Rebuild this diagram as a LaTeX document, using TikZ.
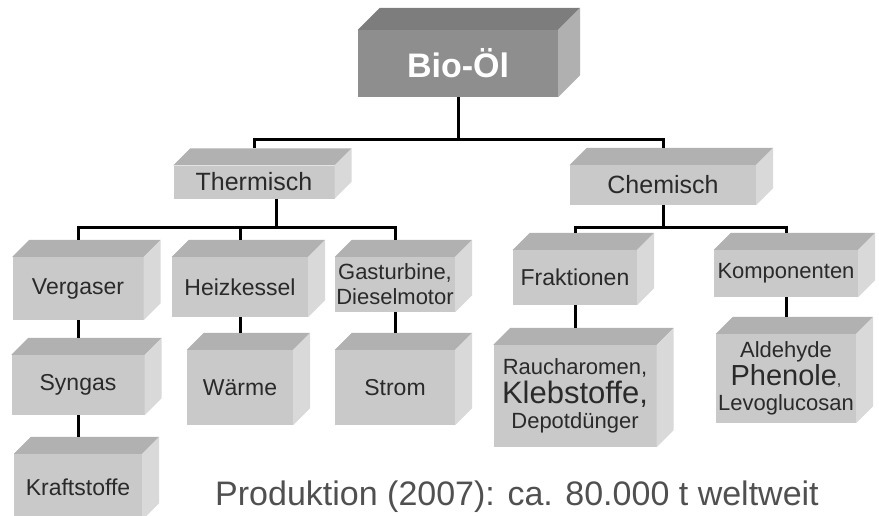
\documentclass[tikz,border=0pt]{standalone}
\usepackage{fontspec}
\setmainfont{Liberation Sans}
\usepackage{tikz}
\usetikzlibrary{positioning}
\definecolor{boxgray}{HTML}{C9C9C9}
\definecolor{biogray}{HTML}{8E8E8E}
\definecolor{labelink}{HTML}{2A2A2A}
\definecolor{prodink}{HTML}{505050}
\newcommand{\bevel}[3][17]{%
  \fill[#3!88!black] (#2.north west) -- ([shift={(#1,-#1)}]#2.north west) -- ([shift={(#1,-#1)}]#2.north east) -- (#2.north east) -- cycle;
  \fill[#3!70!white] (#2.north east) -- ([shift={(#1,-#1)}]#2.north east) -- ([shift={(#1,-#1)}]#2.south east) -- (#2.south east) -- cycle;}

\begin{document}
\begin{tikzpicture}[x=1pt,y=-1pt,
  block/.style={fill=boxgray,inner sep=1pt,align=center,text=labelink,font=\fontsize{23}{26}\selectfont},
  smallblock/.style={block,font=\fontsize{22}{25}\selectfont},
  headblock/.style={block,font=\fontsize{25}{28}\selectfont},
  bioblock/.style={fill=biogray,inner sep=1pt,text=white,font=\fontsize{34}{38}\selectfont\bfseries},
  conn/.style={draw=black,line width=3pt},
  prodtext/.style={text=prodink,font=\fontsize{34}{38}\selectfont}]
\useasboundingbox (0,0) rectangle (879,515);
\node[bioblock,minimum width=200pt,minimum height=67pt] (bio) at (458,63.5) {Bio-Öl};
\bevel[22]{bio}{biogray}
\node[headblock,minimum width=161pt,minimum height=33pt] (therm) at (254,182) {Thermisch};
\bevel{therm}{boxgray}
\node[headblock,minimum width=186pt,minimum height=40pt] (chem) at (663,185) {Chemisch};
\bevel{chem}{boxgray}
\node[block,minimum width=131pt,minimum height=63pt] (verg) at (78,288.5) {Vergaser};
\bevel{verg}{boxgray}
\node[block,minimum width=136pt,minimum height=60pt] (heiz) at (240,287) {Heizkessel};
\bevel{heiz}{boxgray}
\node[smallblock,minimum width=120pt,minimum height=55pt] (gas) at (395,284.5) {Gasturbine,\\Dieselmotor};
\bevel{gas}{boxgray}
\node[block,minimum width=124pt,minimum height=55pt] (frak) at (575,277.5) {Fraktionen};
\bevel{frak}{boxgray}
\node[smallblock,minimum width=144pt,minimum height=47pt] (komp) at (786,273.5) {Komponenten};
\bevel{komp}{boxgray}
\node[block,minimum width=133pt,minimum height=60pt] (syn) at (78,385) {Syngas};
\bevel{syn}{boxgray}
\node[block,minimum width=106pt,minimum height=75pt] (waerme) at (240,387.5) {Wärme};
\bevel{waerme}{boxgray}
\node[block,minimum width=120pt,minimum height=75pt] (strom) at (395,387.5) {Strom};
\bevel{strom}{boxgray}
\node[smallblock,minimum width=163pt,minimum height=102pt] (rauch) at (575,396) {Raucharomen,\\[3pt]{\fontsize{31}{33}\selectfont Klebstoffe,}\\Depotdünger};
\bevel{rauch}{boxgray}
\node[smallblock,minimum width=140pt,minimum height=89pt] (ald) at (786,378.5) {Aldehyde\\[2pt]{\fontsize{29}{31}\selectfont Phenole}{\fontsize{16}{18}\selectfont ,}\\Levoglucosan};
\bevel{ald}{boxgray}
\node[block,minimum width=128pt,minimum height=66pt] (kraft) at (78,487) {Kraftstoffe};
\bevel{kraft}{boxgray}
\node[prodtext,anchor=base] (prod) at (517,505) {Produktion (2007): ca. 80.000 t weltweit};
\coordinate (busA) at (458,139);
\coordinate (busT) at (276,227);
\coordinate (busC) at (663,227);
\draw[conn] (bio.south) -- (bio.south |- busA);
\draw[conn] ([yshift=17pt]therm.north) |- (busA) -| ([yshift=17pt]chem.north);
\draw[conn] ([xshift=22pt]therm.south) -- (busT);
\draw[conn] ([yshift=17pt]verg.north) |- (busT) -| ([yshift=17pt]gas.north);
\draw[conn] (heiz.north |- busT) -- ([yshift=17pt]heiz.north);
\draw[conn] (chem.south) -- (busC);
\draw[conn] ([yshift=17pt]frak.north) |- (busC) -| ([yshift=17pt]komp.north);
\draw[conn] (verg.south) -- ([yshift=17pt]syn.north);
\draw[conn] (syn.south) -- ([yshift=17pt]kraft.north);
\draw[conn] (heiz.south) -- ([yshift=17pt]waerme.north);
\draw[conn] (gas.south) -- ([yshift=17pt]strom.north);
\draw[conn] (frak.south) -- ([yshift=17pt]rauch.north);
\draw[conn] (komp.south) -- ([yshift=17pt]ald.north);
\end{tikzpicture}
\end{document}
